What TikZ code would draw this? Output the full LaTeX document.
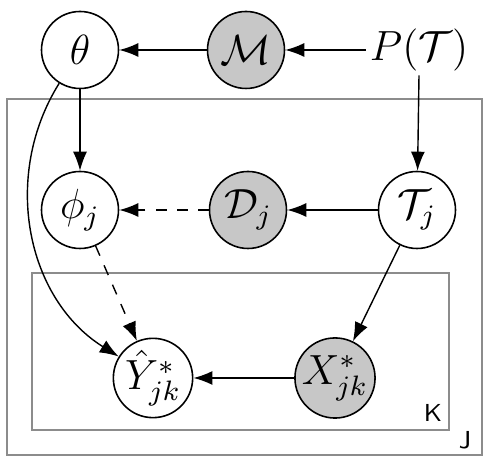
\documentclass[tikz,border=0pt]{standalone}
\usepackage{amsmath,amssymb}
\usepackage{tikz}
\usetikzlibrary{arrows.meta}

\begin{document}
\begin{tikzpicture}[font=\large,
    var/.style={draw, circle, fill=white, minimum size=7.7mm, inner sep=0pt, line width=0.45pt},
    obs/.style={var, fill=black!22},
    plate/.style={draw=black!45, line width=0.55pt},
    platelab/.style={font=\sffamily\scriptsize},
    arr/.style={-{Latex[length=1.9mm, width=1.4mm]}, line width=0.4pt},
    darr/.style={arr, dashed}]
  \useasboundingbox (0,0) rectangle (4.91,4.60);
  % plates J and K
  \draw[plate] (0.07,0.05) rectangle (4.82,3.61);
  \draw[plate] (0.32,0.30) rectangle (4.49,1.87);
  \node[platelab] (labK) at (4.33,0.47) {K};
  \node[platelab] (labJ) at (4.65,0.20) {J};
  % top row
  \node[var] (theta) at (0.80,4.10) {$\theta$};
  \node[obs] (model) at (2.46,4.10) {$\mathcal{M}$};
  \node[inner sep=1pt] (prior) at (4.19,4.10) {$P(\mathcal{T})$};
  % task row, inside J
  \node[var] (phi) at (0.80,2.50) {$\phi_j$};
  \node[obs] (data) at (2.48,2.50) {$\mathcal{D}_j$};
  \node[var] (task) at (4.17,2.50) {$\mathcal{T}_j$};
  % query row, inside K
  \node[var] (yhat) at (1.53,0.82) {$\hat{Y}^{*}_{jk}$};
  \node[obs] (xq) at (3.35,0.82) {$X^{*}_{jk}$};
  % edges
  \draw[arr] (prior) -- (model);
  \draw[arr] (model) -- (theta);
  \draw[arr] (prior.south) -- (task);
  \draw[arr] (theta) -- (phi);
  \draw[arr] (task) -- (data);
  \draw[darr] (data) -- (phi);
  \draw[darr] (phi) -- (yhat);
  \draw[arr] (task) -- (xq);
  \draw[arr] (xq) -- (yhat);
  \draw[arr] (theta) to[out=238, in=148] (yhat);
\end{tikzpicture}
\end{document}
